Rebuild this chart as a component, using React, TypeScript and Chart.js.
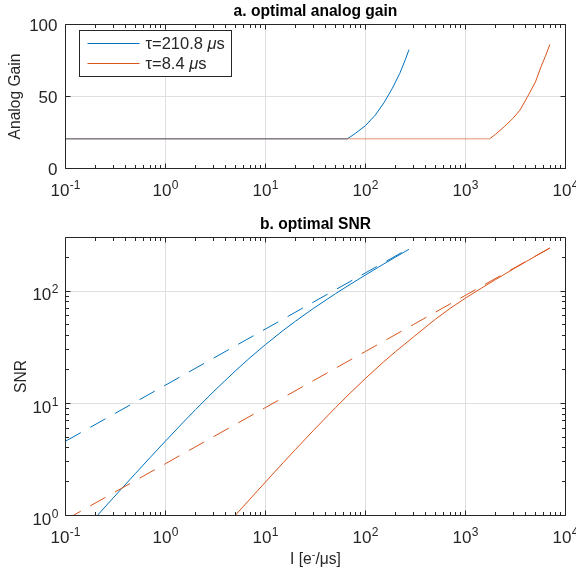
import React, { useEffect, useRef } from 'react';
import { Chart, registerables } from 'chart.js';

Chart.register(...registerables);

// ---- colours & fonts -------------------------------------------------------
const BLUE = '#0072BD';
const ORANGE = '#D95319';
const ORANGE_SOFT = 'rgba(217,83,25,0.62)';
const AXIS = '#262626';
const GRID = '#dfdfdf';
const FONT = '"Liberation Sans", Arial, Helvetica, sans-serif';
const TICK_PX = 17;
const EXP_PX = 12;
const EXP_RAISE = 7;
const LABEL_PX = 15.6;
const LEGEND_PX = 16.5;

// ---- panel a: optimal analog gain -----------------------------------------
const gainBlueI = [0.1, 66, 80, 100, 125, 154, 185, 220, 250, 272];
const gainBlue = [20.6, 20.6, 24.6, 29.8, 37, 46, 55.5, 66, 75.5, 82.5];
const gainOrangeI = [0.1, 1740, 2000, 2440, 3000, 3500, 4170, 5000, 5680, 6300, 6980];
const gainOrange = [20.6, 20.6, 23.8, 29, 35, 40.5, 49.8, 60, 70.5, 78, 86.2];

// ---- panel b: optimal SNR (solid) and shot-noise limit (dashed) -----------
const snrBlueI = [0.1, 0.15, 0.2, 0.3, 0.5, 0.7, 1, 1.5, 2, 3, 5, 7, 10, 15, 20, 30, 50, 70, 100, 150, 200, 272];
const snrBlue = [0.483, 0.723, 0.962, 1.435, 2.365, 3.277, 4.61, 6.75, 8.79, 12.62, 19.46, 25.47, 33.38, 44.53, 54.0, 69.8, 94.6, 114.4, 139.1, 172.8, 200.9, 235.6];
const shotBlueI = [0.1, 0.3, 1, 3, 10, 30, 100, 272];
const shotBlue = [4.591, 7.952, 14.52, 25.15, 45.91, 79.52, 145.2, 239.5];
const snrOrangeI = [4, 5, 7, 10, 15, 20, 30, 50, 70, 100, 150, 200, 300, 500, 700, 1000, 1500, 2000, 3000, 4000, 5000, 6000, 6980];
const snrOrange = [0.807, 1.006, 1.402, 1.989, 2.949, 3.887, 5.704, 9.122, 12.29, 16.67, 23.16, 28.9, 38.79, 56.13, 69.88, 86.64, 108.4, 126.6, 156.9, 182.2, 204.2, 223.9, 241.7];
const shotOrangeI = [0.1, 0.3, 1, 3, 10, 30, 100, 300, 1000, 3000, 6980];
const shotOrange = [0.9165, 1.587, 2.898, 5.02, 9.165, 15.87, 28.98, 50.2, 91.65, 158.7, 242.1];

// ---- axes ------------------------------------------------------------------
const xExponents = [-1, 0, 1, 2, 3, 4];
const xMinor = [-1, 0, 1, 2, 3].flatMap((e) => [2, 3, 4, 5, 6, 7, 8, 9].map((m) => m * 10 ** e));
const gainTicks = [0, 50, 100];
const snrExponents = [0, 1, 2];
const snrMinor = [2, 3, 4, 5, 6, 7, 8, 9, 20, 30, 40, 50, 60, 70, 80, 90, 200];

const seriesNames = ['τ=210.8 ', 'τ=8.4 '];
const seriesUnit = ['μ', 's'];

const pts = (xs: number[], ys: number[]) => xs.map((x, i) => ({ x, y: ys[i] }));

const snap = (v: number) => Math.floor(v) + 0.5;

function drawPower(ctx: CanvasRenderingContext2D, exp: string, x: number, baseline: number, align: 'center' | 'right') {
  ctx.font = `${TICK_PX}px ${FONT}`;
  const w10 = ctx.measureText('10').width;
  ctx.font = `${EXP_PX}px ${FONT}`;
  const we = ctx.measureText(exp).width;
  const total = w10 + 0.5 + we;
  const x0 = align === 'center' ? x - total / 2 : x - total;
  ctx.textAlign = 'left';
  ctx.textBaseline = 'alphabetic';
  ctx.font = `${TICK_PX}px ${FONT}`;
  ctx.fillText('10', x0, baseline);
  ctx.font = `${EXP_PX}px ${FONT}`;
  ctx.fillText(exp, x0 + w10 + 0.5, baseline - EXP_RAISE);
}

type Part = { text: string; font: string; dy?: number };

function drawRich(ctx: CanvasRenderingContext2D, parts: Part[], x: number, baseline: number, align: 'center' | 'left') {
  let total = 0;
  const widths = parts.map((p) => {
    ctx.font = p.font;
    const w = ctx.measureText(p.text).width;
    total += w;
    return w;
  });
  let cx = align === 'center' ? x - total / 2 : x;
  ctx.textAlign = 'left';
  ctx.textBaseline = 'alphabetic';
  parts.forEach((p, i) => {
    ctx.font = p.font;
    ctx.fillText(p.text, cx, baseline - (p.dy || 0));
    cx += widths[i];
  });
}

type PanelSpec = {
  title: string;
  yLabel: string;
  yLabelX: number;
  yLog: boolean;
  legend: boolean;
  xLabel?: boolean;
};

function frame(spec: PanelSpec) {
  return {
    id: 'frame',
    beforeDatasetsDraw(chart: any) {
      const { ctx, chartArea: a, scales } = chart;
      const xs = scales.x;
      const ys = scales.y;
      ctx.save();
      ctx.strokeStyle = GRID;
      ctx.lineWidth = 1;
      ctx.beginPath();
      xExponents.forEach((e) => {
        const px = snap(xs.getPixelForValue(10 ** e));
        if (px <= a.left + 1 || px >= a.right - 1) return;
        ctx.moveTo(px, a.top);
        ctx.lineTo(px, a.bottom);
      });
      const yVals = spec.yLog ? snrExponents.map((e) => 10 ** e) : gainTicks;
      yVals.forEach((v) => {
        const py = snap(ys.getPixelForValue(v));
        if (py <= a.top + 1 || py >= a.bottom - 1) return;
        ctx.moveTo(a.left, py);
        ctx.lineTo(a.right, py);
      });
      ctx.stroke();
      ctx.restore();
    },
    afterDatasetsDraw(chart: any) {
      const { ctx, chartArea: a, scales } = chart;
      const xs = scales.x;
      const ys = scales.y;
      ctx.save();
      ctx.strokeStyle = AXIS;
      ctx.fillStyle = AXIS;
      ctx.lineWidth = 1;

      // box
      ctx.beginPath();
      ctx.rect(a.left, a.top, a.right - a.left, a.bottom - a.top);
      ctx.stroke();

      // ticks (inside, on all four sides)
      const major = 5;
      const minor = 3.5;
      ctx.beginPath();
      const xTick = (v: number, len: number) => {
        const px = snap(xs.getPixelForValue(v));
        ctx.moveTo(px, a.bottom);
        ctx.lineTo(px, a.bottom - len);
        ctx.moveTo(px, a.top);
        ctx.lineTo(px, a.top + len);
      };
      const yTick = (v: number, len: number) => {
        const py = snap(ys.getPixelForValue(v));
        ctx.moveTo(a.left, py);
        ctx.lineTo(a.left + len, py);
        ctx.moveTo(a.right, py);
        ctx.lineTo(a.right - len, py);
      };
      xExponents.forEach((e) => xTick(10 ** e, major));
      xMinor.forEach((v) => xTick(v, minor));
      if (spec.yLog) {
        snrExponents.forEach((e) => yTick(10 ** e, major));
        snrMinor.forEach((v) => yTick(v, minor));
      } else {
        gainTicks.forEach((v) => yTick(v, major));
      }
      ctx.stroke();

      // x tick labels
      xExponents.forEach((e) => {
        const px = xs.getPixelForValue(10 ** e);
        drawPower(ctx, String(e), px, a.bottom + 27, 'center');
      });

      // y tick labels
      if (spec.yLog) {
        snrExponents.forEach((e) => {
          const py = ys.getPixelForValue(10 ** e);
          drawPower(ctx, String(e), a.left - 7, py + 9.4, 'right');
        });
      } else {
        ctx.font = `${TICK_PX}px ${FONT}`;
        ctx.textAlign = 'right';
        ctx.textBaseline = 'alphabetic';
        gainTicks.forEach((v) => {
          const py = ys.getPixelForValue(v);
          ctx.fillText(String(v), a.left - 8, py + 6);
        });
      }

      // title
      ctx.fillStyle = '#000';
      ctx.font = `bold ${LABEL_PX}px ${FONT}`;
      ctx.textAlign = 'center';
      ctx.textBaseline = 'alphabetic';
      ctx.fillText(spec.title, (a.left + a.right) / 2, a.top - 8.5);

      // y label
      ctx.fillStyle = AXIS;
      ctx.save();
      ctx.translate(spec.yLabelX, (a.top + a.bottom) / 2);
      ctx.rotate(-Math.PI / 2);
      ctx.font = `${LABEL_PX}px ${FONT}`;
      ctx.textAlign = 'center';
      ctx.fillText(spec.yLabel, 0, 0);
      ctx.restore();

      // x label
      if (spec.xLabel) {
        const nf = `${LABEL_PX}px ${FONT}`;
        const sf = `${EXP_PX - 1}px ${FONT}`;
        drawRich(
          ctx,
          [
            { text: 'I [e', font: nf },
            { text: '-', font: sf, dy: 6.5 },
            { text: '/μs]', font: nf },
          ],
          (a.left + a.right) / 2,
          a.bottom + 48.5,
          'center'
        );
      }

      // legend
      if (spec.legend) {
        const lx = 79.5;
        const ly = 30.5;
        ctx.fillStyle = '#fff';
        ctx.fillRect(lx, ly, 152, 46);
        ctx.strokeStyle = AXIS;
        ctx.strokeRect(lx, ly, 152, 46);
        [BLUE, ORANGE].forEach((c, i) => {
          const y = 43.5 + i * 20;
          ctx.strokeStyle = c;
          ctx.beginPath();
          ctx.moveTo(87.5, y);
          ctx.lineTo(139.5, y);
          ctx.stroke();
          ctx.fillStyle = AXIS;
          drawRich(
            ctx,
            [
              { text: seriesNames[i], font: `${LEGEND_PX}px ${FONT}` },
              { text: seriesUnit[0], font: `italic ${LEGEND_PX}px ${FONT}` },
              { text: seriesUnit[1], font: `${LEGEND_PX}px ${FONT}` },
            ],
            145.5,
            y + 5.8,
            'left'
          );
        });
      }
      ctx.restore();
    },
  };
}

function baseOptions(padding: any, y: any) {
  return {
    responsive: false,
    animation: false as const,
    events: [] as any[],
    layout: { padding },
    plugins: {
      legend: { display: false },
      title: { display: false },
      tooltip: { enabled: false },
    },
    elements: { point: { radius: 0 }, line: { tension: 0 } },
    scales: {
      x: { type: 'logarithmic' as const, min: 0.1, max: 10000, display: false },
      y,
    },
  };
}

const DASH = [17.5, 10.8];

export default function App() {
  const topRef = useRef<HTMLCanvasElement>(null);
  const botRef = useRef<HTMLCanvasElement>(null);

  useEffect(() => {
    const gainChart = new Chart(topRef.current as HTMLCanvasElement, {
      type: 'line',
      data: {
        datasets: [
          { data: pts(gainBlueI, gainBlue), borderColor: BLUE, borderWidth: 1, order: 2 },
          {
            data: pts(gainOrangeI, gainOrange),
            borderColor: ORANGE,
            borderWidth: 1,
            order: 1,
            // the long flat stretch sits on top of the blue line, so keep it translucent
            segment: { borderColor: (s: any) => (s.p0DataIndex === 0 ? ORANGE_SOFT : ORANGE) },
          },
        ],
      },
      options: baseOptions(
        { left: 65.5, right: 10.5, top: 24.5, bottom: 31.5 },
        { type: 'linear', min: 0, max: 100, display: false }
      ) as any,
      plugins: [frame({ title: 'a. optimal analog gain', yLabel: 'Analog Gain', yLabelX: 19.5, yLog: false, legend: true })],
    });

    const snrChart = new Chart(botRef.current as HTMLCanvasElement, {
      type: 'line',
      data: {
        datasets: [
          { data: pts(snrBlueI, snrBlue), borderColor: BLUE, borderWidth: 1, order: 4 },
          { data: pts(shotBlueI, shotBlue), borderColor: BLUE, borderWidth: 1, borderDash: DASH, order: 3 },
          { data: pts(snrOrangeI, snrOrange), borderColor: ORANGE, borderWidth: 1, order: 2 },
          { data: pts(shotOrangeI, shotOrange), borderColor: ORANGE, borderWidth: 1, borderDash: DASH, order: 1 },
        ],
      },
      options: baseOptions(
        { left: 65.5, right: 10.5, top: 37.5, bottom: 55.5 },
        { type: 'logarithmic', min: 1, max: 300, display: false }
      ) as any,
      plugins: [frame({ title: 'b. optimal SNR', yLabel: 'SNR', yLabelX: 26, yLog: true, legend: false, xLabel: true })],
    });

    return () => {
      gainChart.destroy();
      snrChart.destroy();
    };
  }, []);

  return (
    <div style={{ position: 'absolute', left: 0, top: 0, width: 576, height: 571, background: '#fff' }}>
      <div style={{ position: 'absolute', left: 0, top: 0, width: 576, height: 200 }}>
        <canvas ref={topRef} width={576} height={200} />
      </div>
      <div style={{ position: 'absolute', left: 0, top: 200, width: 576, height: 371 }}>
        <canvas ref={botRef} width={576} height={371} />
      </div>
    </div>
  );
}
